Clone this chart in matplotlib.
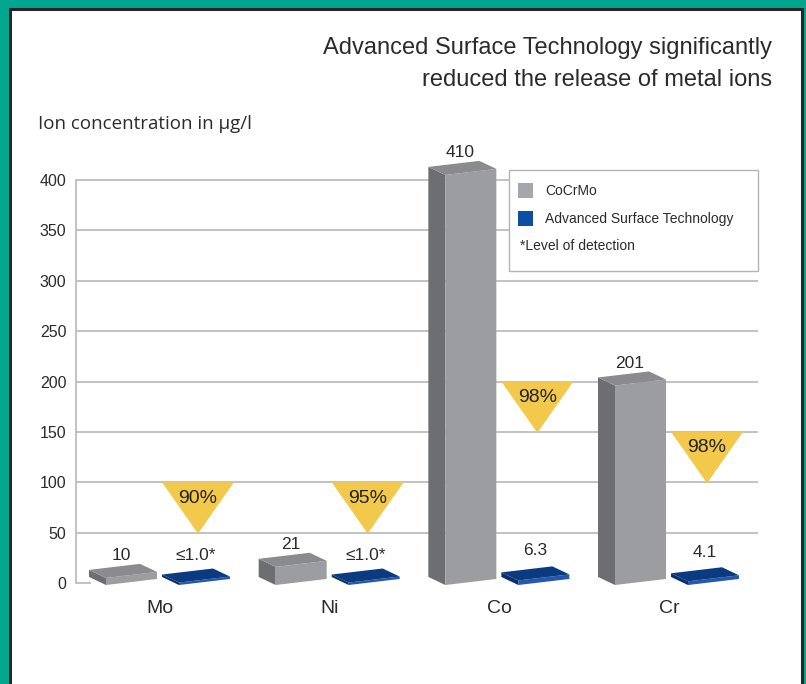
import matplotlib
matplotlib.use("Agg")
import matplotlib.pyplot as plt
from matplotlib.patches import Polygon, Rectangle
import numpy as np

# ---------------- data ----------------
categories = ['Mo', 'Ni', 'Co', 'Cr']
cocrmo = [10, 21, 410, 201]
ast = [1.0, 1.0, 6.3, 4.1]
ast_labels = ['≤1.0*', '≤1.0*', '6.3', '4.1']
reduction = [90, 95, 98, 98]
reduction_level = [100, 100, 200, 150]
yticks = [0, 50, 100, 150, 200, 250, 300, 350, 400]

# ---------------- style ----------------
TEAL = '#00a78e'
GRID = '#bdbdbd'
GRAY_FRONT, GRAY_SIDE, GRAY_TOP = '#9c9da1', '#6d6e72', '#8a8b8f'
BLUE_FRONT, BLUE_SIDE, BLUE_TOP = '#2458ad', '#0a2f6a', '#0a3a80'
YELLOW = '#f3c94b'
TXT = '#2b2b2b'
BODY = ['Liberation Sans', 'DejaVu Sans']
HUMAN = ['Open Sans', 'DejaVu Sans']

W, H = 806, 684
fig = plt.figure(figsize=(W / 100, H / 100), dpi=100, facecolor=TEAL)

# white panel with dark frame
panel = Rectangle((9.5 / W, -0.05), (801.5 - 9.5) / W, 1.05 - 9 / H,
                  transform=fig.transFigure, facecolor='white',
                  edgecolor='#262626', linewidth=2.2, zorder=-5)
fig.patches.append(panel)

# axes geometry (pixel based)
XPX = 169.67   # px per category unit
YPX = 1.0075   # px per value unit
x_left_px, x_right_px = 76, 758
y0_px = 583    # pixel row of value 0
ylo, yhi = -10, 430
xlo = (x_left_px - 160) / XPX
xhi = (x_right_px - 160) / XPX
ax_bottom_px = y0_px - ylo * YPX
ax_top_px = y0_px - yhi * YPX
ax = fig.add_axes([x_left_px / W, (H - ax_bottom_px) / H,
                   (x_right_px - x_left_px) / W, (ax_bottom_px - ax_top_px) / H])
ax.set_zorder(1)
ax.set_facecolor('none')
ax.set_xlim(xlo, xhi)
ax.set_ylim(ylo, yhi)

def px_x(p):
    return p / XPX

# gridlines
for t in yticks[1:]:
    ax.axhline(t, color=GRID, lw=1.3, zorder=1)
ax.axhline(0, xmin=0, xmax=14 / (x_right_px - x_left_px), color=GRID, lw=1.3, zorder=1)
for s in ['top', 'right', 'bottom']:
    ax.spines[s].set_visible(False)
ax.spines['left'].set_bounds(0, 400)
ax.spines['left'].set_color(GRID)
ax.spines['left'].set_linewidth(1.3)

ax.set_yticks(yticks)
ax.set_yticklabels([str(t) for t in yticks], fontsize=11.5, color=TXT, family=BODY)
ax.tick_params(axis='y', length=0, pad=7)
ax.set_xticks(range(len(categories)))
ax.set_xticklabels(categories, fontsize=14, color=TXT, family=BODY)
ax.tick_params(axis='x', length=0, pad=5)

# 3D box helper
EXT = px_x(68)     # overall extent width
SIDE = px_x(17)    # side-face width
SLOPE = 6.0        # rise of front face across its width
DEPTH = 8.0        # vertical offset of back edge

def box(xc, y0, h, front, side, top, z=3):
    xl = xc - EXT / 2
    xf0, xf1 = xl + SIDE, xl + EXT
    fl_b, fr_b = (xf0, y0), (xf1, y0 + SLOPE)
    fl_t, fr_t = (xf0, y0 + h), (xf1, y0 + SLOPE + h)
    bl_b = (xl, y0 + DEPTH)
    bl_t = (xl, y0 + h + DEPTH)
    br_t = (xf1 - SIDE, y0 + SLOPE + h + DEPTH)
    ax.add_patch(Polygon([fl_b, fl_t, bl_t, bl_b], closed=True, facecolor=side,
                         edgecolor='none', zorder=z))
    ax.add_patch(Polygon([fl_b, fr_b, fr_t, fl_t], closed=True, facecolor=front,
                         edgecolor='none', zorder=z))
    ax.add_patch(Polygon([fl_t, fr_t, br_t, bl_t], closed=True, facecolor=top,
                         edgecolor='none', zorder=z))

x = np.arange(len(categories))
g_off = px_x(-37)
b_off = px_x(36)
for i in range(len(categories)):
    gx = x[i] + g_off
    bx = x[i] + b_off
    # CoCrMo bar
    box(gx, -2, cocrmo[i] - 3, GRAY_FRONT, GRAY_SIDE, GRAY_TOP)
    ax.text(gx - px_x(2), cocrmo[i] + 17, str(cocrmo[i]), ha='center', va='center',
            fontsize=12.5, color=TXT, family=BODY, zorder=5)
    # AST plate
    box(bx, -2, 2 + 0.4 * ast[i], BLUE_FRONT, BLUE_SIDE, BLUE_TOP)
    ax.text(bx, ast[i] + 26, ast_labels[i], ha='center', va='center',
            fontsize=12.5, color=TXT, family=BODY, zorder=5)
    # reduction triangle
    tx = bx + px_x(2)
    top = reduction_level[i]
    half = px_x(36)
    ax.add_patch(Polygon([(tx - half, top), (tx + half, top), (tx, top - 51)],
                         closed=True, facecolor=YELLOW, edgecolor='none', zorder=4))
    ax.text(tx, top - 16, f'{reduction[i]}%', ha='center', va='center',
            fontsize=14, color='#222222', family=BODY, zorder=5)

# legend (manual)
def fx(p):
    return p / W

def fy(p):
    return 1 - p / H

leg = Rectangle((fx(509), fy(271)), fx(758 - 509), (271 - 170) / H,
                transform=fig.transFigure, facecolor='white', edgecolor='#b3b3b3',
                linewidth=1.0, zorder=10)
fig.patches.append(leg)
fig.patches.append(Rectangle((fx(518), fy(198)), fx(15), 15 / H, transform=fig.transFigure,
                             facecolor='#a6a7aa', edgecolor='none', zorder=11))
fig.patches.append(Rectangle((fx(518), fy(226)), fx(15), 15 / H, transform=fig.transFigure,
                             facecolor='#0c4ea2', edgecolor='none', zorder=11))
fig.text(fx(545), fy(191), 'CoCrMo', fontsize=10, color=TXT, family=BODY,
         va='center', ha='left', zorder=12)
fig.text(fx(545), fy(219), 'Advanced Surface Technology', fontsize=10, color=TXT,
         family=BODY, va='center', ha='left', zorder=12)
fig.text(fx(520), fy(246), '*Level of detection', fontsize=10, color=TXT, family=BODY,
         va='center', ha='left', zorder=12)

# title and axis caption
fig.text(fx(772), fy(48), 'Advanced Surface Technology significantly', fontsize=17,
         color=TXT, family=BODY, ha='right', va='center')
fig.text(fx(772), fy(80), 'reduced the release of metal ions', fontsize=17,
         color=TXT, family=BODY, ha='right', va='center')
fig.text(fx(38), fy(124), 'Ion concentration in µg/l', fontsize=13.5, color=TXT,
         family=HUMAN, ha='left', va='center')

fig.savefig('out.png', dpi=100, facecolor=TEAL)
